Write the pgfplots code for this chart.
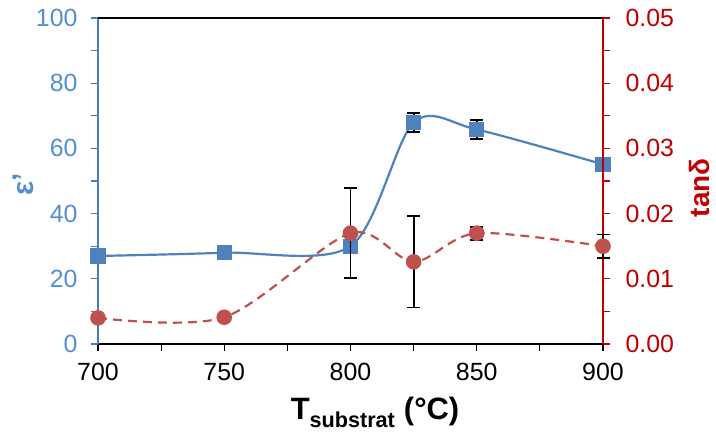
\documentclass[border=0pt]{standalone}
\usepackage{pgfplots}
\pgfplotsset{compat=1.18}
\usepackage{fontspec}
\setmainfont{Liberation Sans}
\definecolor{serblue}{HTML}{4F81BD}
\definecolor{serred}{HTML}{C0504D}
\definecolor{axblue}{HTML}{4A7EBB}
\definecolor{lblblue}{HTML}{558ED5}
\definecolor{axred}{HTML}{C00000}
\pgfplotsset{
  common/.style={
    at={(98bp,88bp)}, anchor=south west, scale only axis,
    width=505bp, height=326bp,
    xmin=700, xmax=900,
    tick align=outside,
    major tick length=7bp, minor tick length=7bp,
    every tick/.append style={line width=1.2bp},
    /pgf/number format/assume math mode=true,
    ticklabel style={font=\fontsize{25}{30}\selectfont},
    clip=false,
  },
  ebars/.style={
    error bars/.cd, y dir=both, y explicit,
    error bar style={black, line width=1.8bp, solid},
    error mark options={rotate=90, mark size=6.5bp, black, line width=1.8bp, solid},
  },
}
\begin{document}
\begin{tikzpicture}
\useasboundingbox (0,0) rectangle (716bp,432bp);
\begin{axis}[common,
  ymin=0, ymax=100,
  axis x line*=bottom, axis y line*=left,
  x axis line style={black, line width=1.5bp},
  y axis line style={axblue, line width=1.5bp},
  xtick={700,750,800,850,900},
  minor xtick={725,775,825,875},
  ytick={0,20,40,60,80,100},
  minor ytick={10,30,50,70,90},
  x tick style={black},
  y tick style={axblue},
  xticklabel style={black, yshift=-9bp},
  yticklabel style={lblblue, xshift=-10bp},
  xlabel={\bfseries T\textsubscript{substrat} (°C)},
  xlabel style={font=\fontsize{31}{36}\selectfont, at={(axis description cs:0.5485,-0.233)}, anchor=base},
  ylabel={\bfseries ε'},
  ylabel style={font=\fontsize{30}{34}\selectfont, lblblue, at={(axis description cs:-0.1485,0.49)}, anchor=center, inner sep=0pt},
]
\addplot[serblue, line width=2.2bp, smooth, mark=square*, mark size=6.5bp, mark options={solid, fill=serblue}, ebars]
table[x=x, y=y, y error=e] {
x y e
700 27.0 0
750 28.0 0
800 30.0 0
825 67.9 2.9
850 65.8 3.0
900 55.1 0
};
\end{axis}
\begin{axis}[common,
  ymin=0, ymax=0.05,
  axis x line*=top, axis y line*=right,
  x axis line style={black, line width=1.5bp},
  y axis line style={axred, line width=1.5bp},
  xtick=\empty,
  ytick={0,0.01,0.02,0.03,0.04,0.05},
  minor ytick={0.005,0.015,0.025,0.035,0.045},
  scaled y ticks=false,
  y tick style={axred},
  yticklabel style={axred, xshift=12bp, /pgf/number format/.cd, fixed, fixed zerofill, precision=2},
  ylabel={\bfseries tanδ},
  ylabel style={font=\fontsize{28}{32}\selectfont, axred, at={(axis description cs:1.192,0.479)}, anchor=center, rotate=0, inner sep=0pt},
]
\addplot[serred, line width=2.2bp, smooth, dash pattern=on 9bp off 6bp, mark=*, mark size=6.7bp, mark options={solid, fill=serred}, ebars]
table[x=x, y=y, y error=e] {
x y e
700 0.0040 0
750 0.0041 0
800 0.0170 0.0069
825 0.0126 0.0070
850 0.0170 0.0010
900 0.0150 0.0018
};
\end{axis}
\end{tikzpicture}
\end{document}
